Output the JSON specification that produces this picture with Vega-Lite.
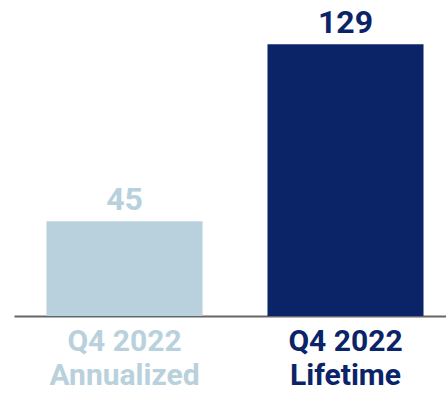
{
  "$schema": "https://vega.github.io/schema/vega-lite/v6.json",
  "autosize": "none",
  "padding": {"left": 14, "top": 0, "right": 0, "bottom": 79},
  "width": 442,
  "height": 316,
  "background": "white",
  "data": {"values": [
    {"period": "Q4 2022|Annualized", "value": 45},
    {"period": "Q4 2022|Lifetime", "value": 129}
  ]},
  "config": {"view": {"stroke": null}, "font": "Roboto"},
  "encoding": {
    "x": {
      "field": "period", "type": "nominal", "sort": null,
      "scale": {"paddingInner": 0.294, "paddingOuter": 0.147},
      "axis": {
        "title": null, "labelAngle": 0, "ticks": false,
        "domainColor": "#666666", "domainWidth": 2,
        "labelFont": "Roboto", "labelFontWeight": "bold", "labelFontSize": 30,
        "labelLineHeight": 34, "labelPadding": 10, "labelBaseline": "top",
        "labelExpr": "split(datum.label, '|')",
        "labelColor": {"condition": {"test": "datum.value == 'Q4 2022|Lifetime'", "value": "#0b2468"}, "value": "#b8d1dc"}
      }
    },
    "y": {
      "field": "value", "type": "quantitative",
      "scale": {"domain": [0, 150], "nice": false},
      "axis": null
    },
    "color": {
      "field": "period", "type": "nominal", "legend": null,
      "scale": {"domain": ["Q4 2022|Annualized", "Q4 2022|Lifetime"], "range": ["#b8d1dc", "#0b2468"]}
    }
  },
  "layer": [
    {"mark": {"type": "bar"}},
    {"mark": {"type": "text", "baseline": "alphabetic", "dy": -11, "fontSize": 32, "fontWeight": "bold", "font": "Roboto"},
     "encoding": {"text": {"field": "value", "type": "quantitative"}}}
  ]
}
